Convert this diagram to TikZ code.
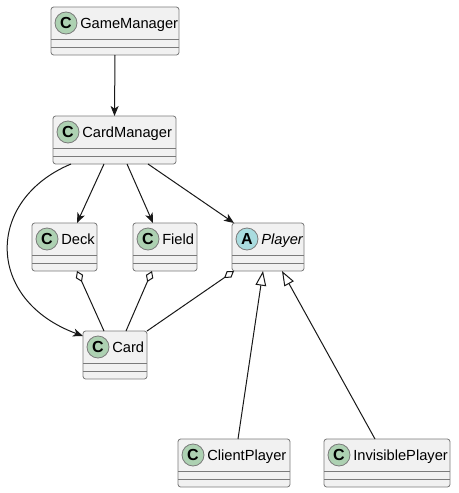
\documentclass[tikz,border=0pt]{standalone}
\usepackage{fontspec}
\setmainfont{Liberation Sans}
\usetikzlibrary{arrows.meta,calc}
\definecolor{boxfill}{HTML}{F1F1F1}
\definecolor{ink}{HTML}{181818}
\definecolor{frame}{HTML}{7A7A7A}
\definecolor{cgreen}{HTML}{ADD1B2}
\definecolor{acyan}{HTML}{A9DCDF}
\tikzset{
 classbox/.style={draw=frame, fill=boxfill, line width=0.6pt, rounded corners=2pt, inner sep=0pt, outer sep=0pt},
 sepline/.style={draw=frame, line width=0.6pt},
 iconcirc/.style={circle, draw=frame, line width=0.6pt, minimum size=16.5pt, inner sep=0pt, font=\bfseries\fontsize{12}{12}\selectfont},
 classname/.style={anchor=base west, inner sep=0pt, font=\fontsize{11}{13}\selectfont},
 assoc/.style={draw=ink, line width=0.75pt, -{Stealth[length=7.5pt,width=6pt,inset=2pt]}},
 aggr/.style={draw=ink, line width=0.75pt, -{Diamond[open,fill=white,length=9pt,width=6pt]}},
 gener/.style={draw=ink, line width=0.75pt, -{Triangle[open,fill=white,length=11pt,width=8pt]}},
}
% name, x1, y1, x2, y2, letter, colour, label
\newcommand{\umlclass}[8]{%
 \node[classbox, minimum width={(#4-#2)*0.75pt}, minimum height={(#5-#3)*0.75pt}] (#1) at ({(#2+#4)/2},{(#3+#5)/2}) {};
 \draw[sepline] (#2,#5-16) -- (#4,#5-16);
 \draw[sepline] (#2,#5-8) -- (#4,#5-8);
 \node[iconcirc, fill=#7] (#1-icon) at (#2+15,#3+16) {#6};
 \node[classname] (#1-name) at (#2+29,#3+21) {#8};
}
\begin{document}
\begin{tikzpicture}[x=0.75pt,y=-0.75pt]
\useasboundingbox (0,0) rectangle (459,493);
\umlclass{gm}{51}{7}{179}{55}{C}{cgreen}{GameManager}
\umlclass{cm}{53}{116}{176}{164}{C}{cgreen}{CardManager}
\umlclass{deck}{32}{223}{97}{271}{C}{cgreen}{Deck}
\umlclass{field}{133}{223}{197}{271}{C}{cgreen}{Field}
\umlclass{player}{232}{223}{304}{271}{A}{acyan}{\itshape Player}
\umlclass{card}{83}{331}{147}{379}{C}{cgreen}{Card}
\umlclass{client}{178}{439}{290}{487}{C}{cgreen}{ClientPlayer}
\umlclass{invis}{324}{439}{450}{487}{C}{cgreen}{InvisiblePlayer}

\draw[assoc] (gm.south) -- (cm.north);
\draw[assoc] ($(cm.south west)+(51,0)$) -- ($(deck.north west)+(45,0)$);
\draw[assoc] ($(cm.south west)+(74,0)$) -- ($(field.north west)+(20,0)$);
\draw[assoc] ($(cm.south west)+(95,0)$) -- ($(player.north west)+(2,0)$);
\draw[assoc] ($(cm.south west)+(18,0)$) .. controls (-15,200) and (-15,300) .. ($(card.north west)+(0,5)$);

\draw[aggr] ($(card.north west)+(21,0)$) -- ($(deck.south west)+(45,0)$);
\draw[aggr] ($(card.north west)+(43,0)$) -- ($(field.south west)+(19,0)$);
\draw[aggr] (card.north east) -- ($(player.south west)+(2,0)$);

\draw[gener] ($(client.north west)+(60,0)$) -- ($(player.south west)+(31,0)$);
\draw[gener] ($(invis.north west)+(51,0)$) -- ($(player.south west)+(50,0)$);
\end{tikzpicture}
\end{document}
